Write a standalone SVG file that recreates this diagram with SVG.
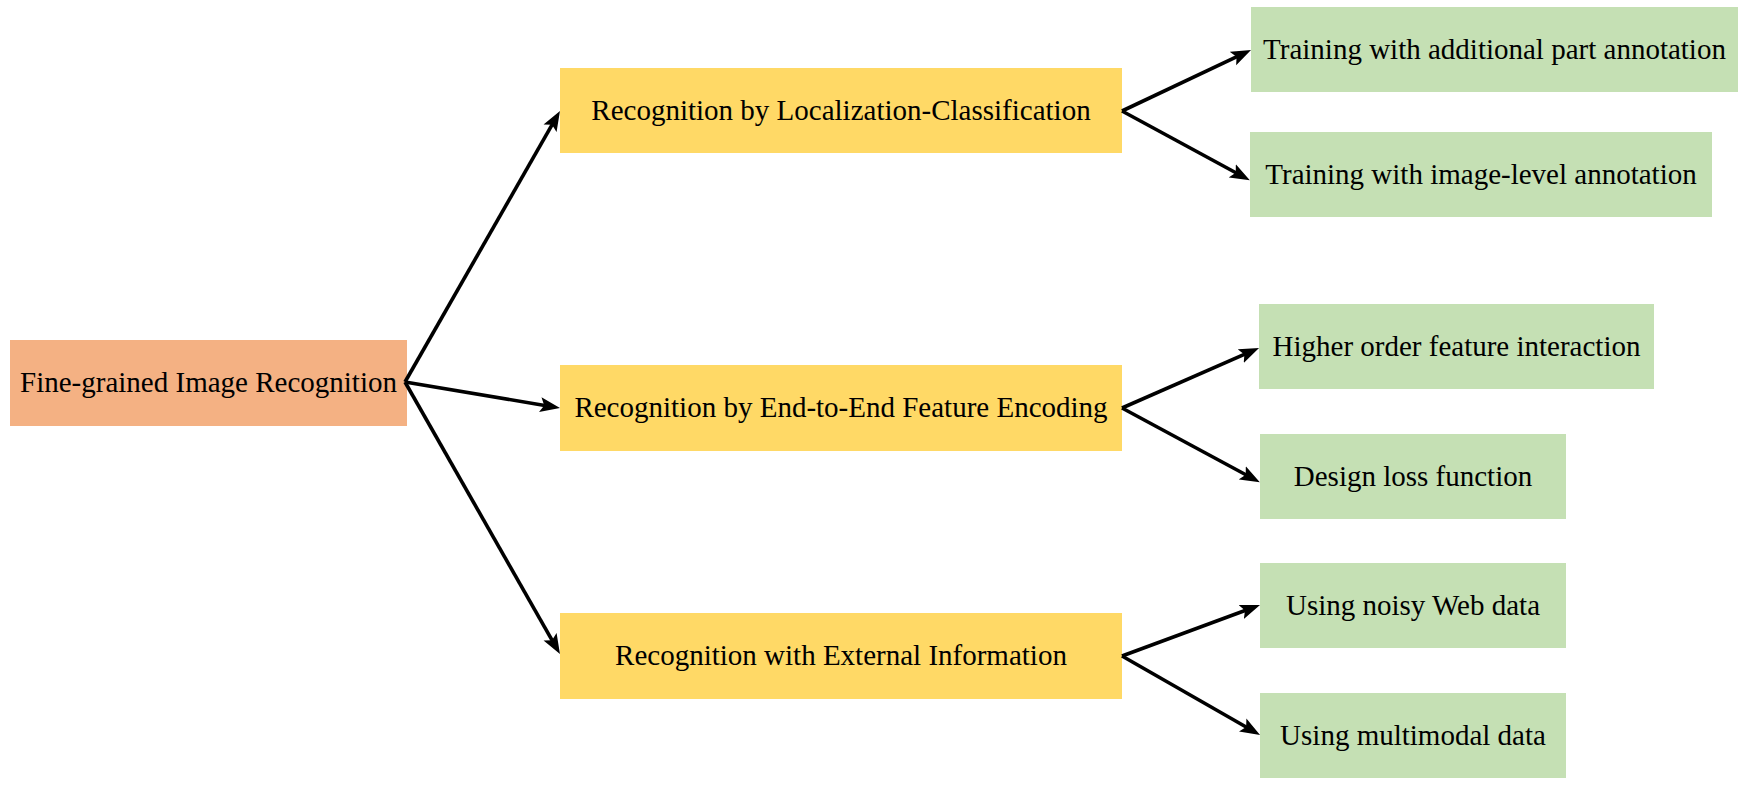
<svg xmlns="http://www.w3.org/2000/svg" width="1754" height="786" viewBox="0 0 1754 786">
<style>
.t{font-family:"Liberation Serif","Times New Roman",serif;font-size:29px;fill:#000;text-anchor:middle}
.root{fill:#F4B183}
.mid{fill:#FFD966}
.leaf{fill:#C5E0B4}
.c{stroke:#000;stroke-width:3.6;fill:none;marker-end:url(#ah)}
</style>
<defs>
<marker id="ah" markerUnits="userSpaceOnUse" markerWidth="20" markerHeight="16" viewBox="0 0 20 16" refX="12" refY="8" orient="auto">
<path d="M0,0.5 L20,8 L0,15.5 L4,8 z" fill="#000"/>
</marker>
</defs>
<rect width="1754" height="786" fill="#fff"/>
<g id="root"><rect class="root" x="10" y="340" width="397" height="86"/><text class="t" x="208.5" y="392">Fine-grained Image Recognition</text></g>
<g id="mid1"><rect class="mid" x="560" y="68" width="562" height="85"/><text class="t" x="841" y="119.5">Recognition by Localization-Classification</text></g>
<g id="mid2"><rect class="mid" x="560" y="365" width="562" height="86"/><text class="t" x="841" y="417">Recognition by End-to-End Feature Encoding</text></g>
<g id="mid3"><rect class="mid" x="560" y="613" width="562" height="86"/><text class="t" x="841" y="665">Recognition with External Information</text></g>
<g id="leaf1"><rect class="leaf" x="1251" y="7" width="487" height="85"/><text class="t" x="1494.5" y="59">Training with additional part annotation</text></g>
<g id="leaf2"><rect class="leaf" x="1250" y="132" width="462" height="85"/><text class="t" x="1481" y="184">Training with image-level annotation</text></g>
<g id="leaf3"><rect class="leaf" x="1259" y="304" width="395" height="85"/><text class="t" x="1456.5" y="356">Higher order feature interaction</text></g>
<g id="leaf4"><rect class="leaf" x="1260" y="434" width="306" height="85"/><text class="t" x="1413" y="486">Design loss function</text></g>
<g id="leaf5"><rect class="leaf" x="1260" y="563" width="306" height="85"/><text class="t" x="1413" y="615">Using noisy Web data</text></g>
<g id="leaf6"><rect class="leaf" x="1260" y="693" width="306" height="85"/><text class="t" x="1413" y="745">Using multimodal data</text></g>
<g id="connectors">
<line class="c" x1="405" y1="382" x2="556" y2="117.9"/>
<line class="c" x1="405" y1="382" x2="552.1" y2="406.7"/>
<line class="c" x1="405" y1="382" x2="556" y2="647.1"/>
<line class="c" x1="1122" y1="111" x2="1243.8" y2="53.4"/>
<line class="c" x1="1122" y1="111" x2="1242.8" y2="176.5"/>
<line class="c" x1="1122" y1="408" x2="1251.7" y2="351.2"/>
<line class="c" x1="1122" y1="408" x2="1252.8" y2="478.5"/>
<line class="c" x1="1122" y1="656" x2="1252.5" y2="607.8"/>
<line class="c" x1="1122" y1="656" x2="1253.1" y2="731"/>
</g>
</svg>
